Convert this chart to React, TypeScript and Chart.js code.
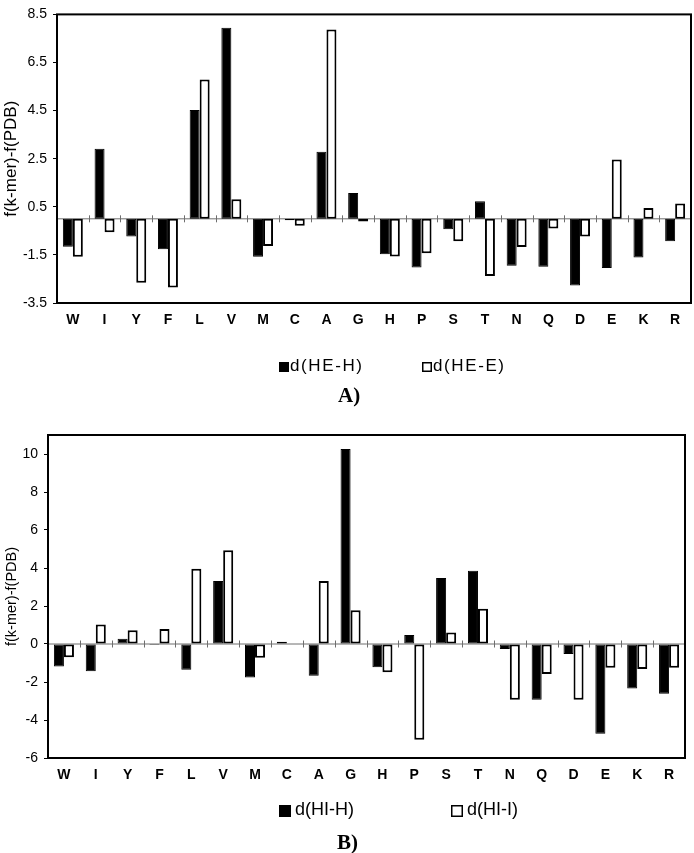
import React, { useEffect, useRef } from 'react';
import { Chart, registerables } from 'chart.js';

Chart.register(...registerables);

const AMINO = ['W', 'I', 'Y', 'F', 'L', 'V', 'M', 'C', 'A', 'G', 'H', 'P', 'S', 'T', 'N', 'Q', 'D', 'E', 'K', 'R'];

const A_SERIES_NAMES = ['d(HE-H)', 'd(HE-E)'];
const A_HE_H = [-1.16, 2.91, -0.74, -1.27, 4.53, 7.95, -1.58, -0.06, 2.79, 1.07, -1.47, -2.02, -0.43, 0.73, -1.95, -1.99, -2.77, -2.04, -1.61, -0.93];
const A_HE_E = [-1.58, -0.56, -2.66, -2.86, 5.79, 0.81, -1.13, -0.29, 7.87, -0.11, -1.57, -1.43, -0.93, -2.38, -1.17, -0.4, -0.74, 2.47, 0.45, 0.64];
const A_TICKS = [-3.5, -1.5, 0.5, 2.5, 4.5, 6.5, 8.5];
const A_CAPTION = 'A)';

const B_SERIES_NAMES = ['d(HI-H)', 'd(HI-I)'];
const B_HI_H = [-1.18, -1.44, 0.28, -0.05, -1.35, 3.31, -1.76, 0.12, -1.67, 10.26, -1.23, 0.47, 3.47, 3.86, -0.26, -2.93, -0.53, -4.72, -2.34, -2.62];
const B_HI_I = [-0.7, 1.02, 0.72, 0.79, 3.96, 4.93, -0.72, 0.03, 3.31, 1.77, -1.49, -5.04, 0.61, 1.86, -2.93, -1.58, -2.93, -1.25, -1.32, -1.25];
const B_TICKS = [-6, -4, -2, 0, 2, 4, 6, 8, 10];
const B_CAPTION = 'B)';

const Y_TITLE = 'f(k-mer)-f(PDB)';
const SANS = 'Arial, "Liberation Sans", sans-serif';
const SERIF = '"Times New Roman", "Liberation Serif", serif';

const panelPlugin = {
  id: 'panelDeco',
  beforeDatasetsDraw(chart: any) {
    const { ctx, chartArea: a, scales } = chart;
    const x = scales.x;
    const y = scales.y;
    const y0 = y.getPixelForValue(0);
    ctx.save();
    ctx.strokeStyle = '#6e6e6e';
    ctx.lineWidth = 1;
    ctx.beginPath();
    ctx.moveTo(a.left, y0);
    ctx.lineTo(a.right, y0);
    const n = x.ticks.length;
    for (let i = 0; i < n - 1; i++) {
      const bx = Math.round((x.getPixelForTick(i) + x.getPixelForTick(i + 1)) / 2) + 0.5;
      ctx.moveTo(bx, y0 - 3.5);
      ctx.lineTo(bx, y0 + 3.5);
    }
    ctx.stroke();
    ctx.restore();
  },
  afterDraw(chart: any, _args: any, opts: any) {
    const { ctx, chartArea: a } = chart;
    ctx.save();
    ctx.strokeStyle = '#000';
    ctx.lineWidth = 2;
    ctx.strokeRect(a.left, a.top, a.right - a.left, a.bottom - a.top);
    // legend
    const lg = opts.legend;
    if (lg) {
      ctx.font = lg.font;
      (ctx as any).letterSpacing = lg.letterSpacing || '0px';
      ctx.textBaseline = 'alphabetic';
      ctx.textAlign = 'left';
      chart.data.datasets.forEach((ds: any, i: number) => {
        const it = lg.items[i];
        ctx.fillStyle = ds.backgroundColor;
        ctx.fillRect(it.boxX, it.boxY, lg.box, lg.box);
        ctx.lineWidth = 1.5;
        ctx.strokeStyle = '#000';
        ctx.strokeRect(it.boxX + 0.75, it.boxY + 0.75, lg.box - 1.5, lg.box - 1.5);
        ctx.fillStyle = '#000';
        ctx.fillText(ds.label, it.textX, lg.baseline);
      });
      (ctx as any).letterSpacing = '0px';
    }
    const cap = opts.caption;
    if (cap) {
      ctx.font = cap.font;
      ctx.fillStyle = '#000';
      ctx.textBaseline = 'alphabetic';
      ctx.textAlign = 'left';
      ctx.fillText(cap.text, cap.x, cap.y);
    }
    ctx.restore();
  },
};

function buildConfig(p: any) {
  return {
    type: 'bar',
    data: {
      labels: AMINO,
      datasets: [
        {
          label: p.names[0],
          data: p.s1,
          backgroundColor: '#000',
          borderColor: '#000',
          borderWidth: 1,
          borderSkipped: false,
        },
        {
          label: p.names[1],
          data: p.s2,
          backgroundColor: '#fff',
          borderColor: '#000',
          borderWidth: 2,
          borderSkipped: false,
        },
      ],
    },
    options: {
      responsive: false,
      animation: false,
      datasets: { bar: { categoryPercentage: 0.63, barPercentage: 1.0 } },
      layout: { padding: p.padding },
      plugins: {
        legend: { display: false },
        tooltip: { enabled: false },
        panelDeco: { legend: p.legend, caption: p.caption },
      },
      scales: {
        x: {
          type: 'category',
          grid: { display: false, drawTicks: false },
          border: { display: false },
          ticks: { color: '#000', font: { family: SANS, size: 14, weight: 'bold' }, padding: p.xPad, maxRotation: 0, autoSkip: false },
          afterFit: (s: any) => { s.height = p.xHeight; },
        },
        y: {
          type: 'linear',
          min: p.min,
          max: p.max,
          afterBuildTicks: (s: any) => { s.ticks = p.ticks.map((v: number) => ({ value: v })); },
          grid: { drawOnChartArea: false, drawTicks: true, tickLength: 4, color: '#000', lineWidth: 1 },
          border: { display: false },
          ticks: {
            color: '#000',
            font: { family: SANS, size: 14 },
            padding: 6,
            callback: (v: any) => String(v),
          },
          title: {
            display: true,
            text: Y_TITLE,
            color: '#000',
            font: { family: SANS, size: p.titleSize },
            padding: { top: p.titlePad, bottom: 0 },
          },
          afterFit: (s: any) => { s.width = p.yWidth; },
        },
      },
    },
    plugins: [panelPlugin],
  };
}

function Panel(props: { cfg: any; top: number; width: number; height: number }) {
  const ref = useRef<HTMLCanvasElement>(null);
  useEffect(() => {
    const chart = new Chart(ref.current as HTMLCanvasElement, buildConfig(props.cfg) as any);
    return () => chart.destroy();
  }, []);
  return (
    <canvas
      ref={ref}
      width={props.width}
      height={props.height}
      style={{ position: 'absolute', left: 0, top: props.top, width: props.width, height: props.height, display: 'block' }}
    />
  );
}

const panelA = {
  names: A_SERIES_NAMES,
  s1: A_HE_H,
  s2: A_HE_E,
  min: -3.5,
  max: 8.5,
  ticks: A_TICKS,
  padding: { top: 9, right: 3, left: 0, bottom: 0 },
  yWidth: 57,
  xHeight: 117,
  xPad: 9,
  titleSize: 17,
  titlePad: 1,
  legend: {
    font: `17px ${SANS}`,
    letterSpacing: '1.6px',
    box: 10,
    baseline: 371,
    items: [
      { boxX: 279, boxY: 362, textX: 290 },
      { boxX: 422, boxY: 362, textX: 433 },
    ],
  },
  caption: { text: A_CAPTION, font: `bold 21px ${SERIF}`, x: 338, y: 402 },
};

const panelB = {
  names: B_SERIES_NAMES,
  s1: B_HI_H,
  s2: B_HI_I,
  min: -6,
  max: 11,
  ticks: B_TICKS,
  padding: { top: 15, right: 9, left: 0, bottom: 0 },
  yWidth: 48,
  xHeight: 95,
  xPad: 9,
  titleSize: 14.5,
  titlePad: 3,
  legend: {
    font: `18px ${SANS}`,
    letterSpacing: '0px',
    box: 12,
    baseline: 395,
    items: [
      { boxX: 279, boxY: 385, textX: 295 },
      { boxX: 451, boxY: 385, textX: 467 },
    ],
  },
  caption: { text: B_CAPTION, font: `bold 21px ${SERIF}`, x: 337, y: 429 },
};

export default function App() {
  return (
    <div style={{ position: 'absolute', left: 0, top: 0, width: 694, height: 853, background: '#fff', overflow: 'hidden' }}>
      <Panel cfg={panelA} top={0} width={694} height={420} />
      <Panel cfg={panelB} top={420} width={694} height={433} />
    </div>
  );
}
